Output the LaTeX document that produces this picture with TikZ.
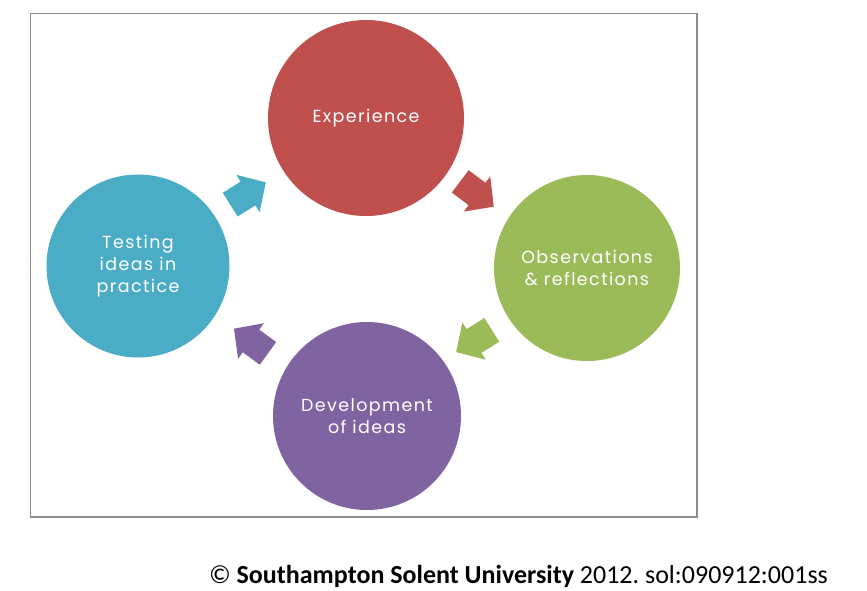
\documentclass[tikz,border=0pt]{standalone}
\usepackage{fontspec}
\setmainfont{Carlito}
\newfontfamily\circfont[LetterSpace=8]{Poppins}
\definecolor{cred}{HTML}{C0504D}
\definecolor{cgreen}{HTML}{9BBB59}
\definecolor{cpurple}{HTML}{8064A2}
\definecolor{cblue}{HTML}{4BACC6}
\definecolor{cframe}{HTML}{8C8C8C}
\frenchspacing
\tikzset{
  circ/.style={circle, inner sep=0pt, text=white, align=center,
    font=\circfont\fontsize{17.5}{22}\selectfont},
  blockarrow/.pic={
    \fill[pic actions] (-21,-14) -- (0,-14) -- (0,-22) -- (21,0) -- (0,22) -- (0,14) -- (-21,14) -- cycle;
  }
}
\begin{document}
\begin{tikzpicture}[x=1pt,y=-1pt]
\useasboundingbox (0,0) rectangle (867,590);
\draw[cframe, line width=1.5pt] (30.5,13.5) rectangle (697,517);
\node[circ, fill=cred, minimum size=196pt] (exp) at (366,118) {Experience};
\node[circ, fill=cgreen, minimum size=186pt] (obs) at (587,268) {Observations\\\& reflections};
\node[circ, fill=cpurple, minimum size=188pt] (dev) at (367,416) {Development\\of ideas};
\node[circ, fill=cblue, minimum size=183pt] (test) at (138,266) {Testing\\ideas in\\practice};
\pic[fill=cblue, rotate=32] at (248,193.5) {blockarrow};
\pic[fill=cred, rotate=-37] at (477,194) {blockarrow};
\pic[fill=cgreen, rotate=212] at (474,341) {blockarrow};
\pic[fill=cpurple, rotate=144] at (251,341) {blockarrow};
\node[anchor=base east, font=\fontsize{26}{30}\selectfont, inner sep=0pt] (copy) at (828,583) {\textcopyright\ \textbf{Southampton Solent University} 2012. sol:090912:001ss};
\end{tikzpicture}
\end{document}
